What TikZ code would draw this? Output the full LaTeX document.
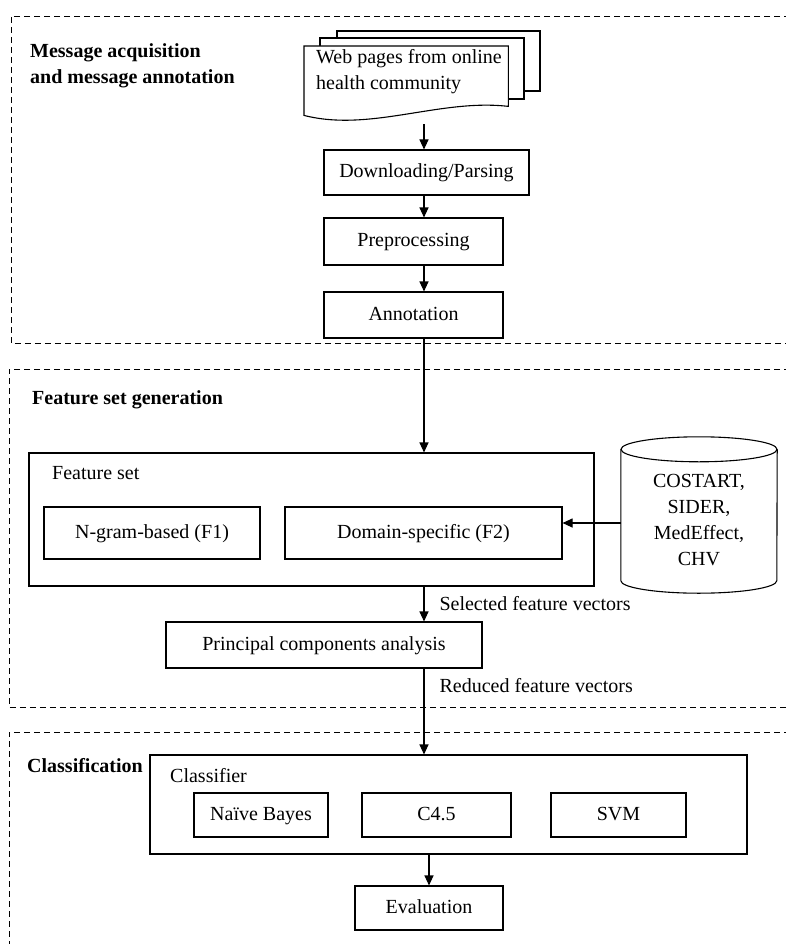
\documentclass[tikz,border=0pt]{standalone}
\usepackage{fontspec}
\setmainfont{Liberation Serif}
\usetikzlibrary{arrows.meta, positioning, calc}

\begin{document}
\begin{tikzpicture}[
    x=1pt, y=-1pt,
    >={Triangle[length=10pt,width=9pt]},
    font=\fontsize{20}{26}\selectfont,
    box/.style={draw=black, line width=1.1pt, inner sep=0pt, align=center,
        text height=14pt, text depth=4pt},
    sheet/.style={draw=black, line width=1.1pt, fill=white},
    sect/.style={draw=black, line width=0.9pt, dash pattern=on 6pt off 4pt},
    arr/.style={->, draw=black, line width=1.1pt},
    head/.style={font=\fontsize{20}{26}\selectfont\bfseries, align=left, inner sep=0pt},
    lbl/.style={inner sep=0pt, align=left},
]
\useasboundingbox (0,0) rectangle (786,944);
\coordinate (spine) at (424,0);
% ---------- Section 1 : message acquisition ----------
\draw[sect] (800,16) -| (11,343) -- (800,343);
\node[head, anchor=north west] (acq) at (30,43) {Message acquisition\\and message annotation};
\node[inner sep=0pt, minimum width=204pt, minimum height=69pt, anchor=north west] (web) at (304,46) {};
\draw[sheet] (337,31) rectangle (540,91);
\draw[sheet] (320,38) rectangle (524,99);
\draw[sheet] (web.north west) -- (web.north east) -- ([yshift=9pt]web.south east)
    .. controls +(-68,-8) and +(66,17) .. (web.south west) -- cycle;
\node[lbl, anchor=north west] (webtxt) at ([xshift=12pt,yshift=-3pt]web.north west)
    {Web pages from online\\health community};
\node[box, minimum width=205pt, minimum height=45pt] (dl)  at (426.5,172.5) {Downloading/Parsing};
\node[box, minimum width=179pt, minimum height=47pt] (pre) at (413.5,241.5) {Preprocessing};
\node[box, minimum width=179pt, minimum height=46pt] (ann) at (413.5,315)   {Annotation};
% ---------- Section 2 : feature set generation ----------
\draw[sect] (800,369) -| (9,707) -- (800,707);
\node[head, anchor=base west] (gen) at (32,404) {Feature set generation};
\node[box, minimum width=565pt, minimum height=133pt] (fset) at (311.5,519.5) {};
\node[lbl, anchor=base west] (fsettxt) at (52,479) {Feature set};
\node[box, minimum width=216pt, minimum height=52pt] (ngram)  at (152,533)   {N-gram-based (F1)};
\node[box, minimum width=277pt, minimum height=52pt] (domain) at (423.5,533) {Domain-specific (F2)};
\node[inner sep=0pt, minimum width=156pt, minimum height=156pt] (db) at (699,515) {};
\draw[line width=1.1pt] ([yshift=-12.5pt]db.north west) -- ([yshift=12.5pt]db.south west)
    arc[start angle=180, end angle=360, x radius=78pt, y radius=12.5pt]
    -- ([yshift=-12.5pt]db.north east);
\draw[line width=1.1pt] ([yshift=-12.5pt]db.north) ellipse[x radius=78pt, y radius=12.5pt];
\node[lbl, align=center] (dbtxt) at ([yshift=-5pt]db.center) {COSTART,\\SIDER,\\MedEffect,\\CHV};
\node[box, minimum width=316pt, minimum height=46pt] (pca) at (324,645) {Principal components analysis};
% ---------- Section 3 : classification ----------
\draw[sect] (800,732) -| (9,950);
\node[head, anchor=base west] (cls) at (27,772) {Classification};
\node[box, minimum width=597pt, minimum height=99pt] (clf) at (448.5,804.5) {};
\node[lbl, anchor=base west] (clftxt) at (170,782) {Classifier};
\node[box, minimum width=134pt, minimum height=44pt] (nb)   at (261,815)   {Naïve Bayes};
\node[box, minimum width=149pt, minimum height=44pt] (c45)  at (436.5,815) {C4.5};
\node[box, minimum width=135pt, minimum height=44pt] (svm)  at (618.5,815) {SVM};
\node[box, minimum width=148pt, minimum height=44pt] (eval) at (429,908)   {Evaluation};
% ===================== EDGES =====================
\draw[arr] ($(web.south -| spine)+(0,9)$) -- (dl.north -| spine);
\draw[arr] (dl.south -| spine)   -- (pre.north -| spine);
\draw[arr] (pre.south -| spine)  -- (ann.north -| spine);
\draw[arr] (ann.south -| spine)  -- (fset.north -| spine);
\draw[arr] ([yshift=-8pt]db.west) -- ([yshift=10pt]domain.east);
\draw[arr] (fset.south -| spine) -- node[lbl, anchor=west, xshift=15pt] {Selected feature vectors} (pca.north -| spine);
\draw[arr] (pca.south -| spine)  -- node[lbl, anchor=west, xshift=15pt, pos=0.2] {Reduced feature vectors} (clf.north -| spine);
\draw[arr] (clf.south -| eval)   -- (eval);
\end{tikzpicture}
\end{document}
